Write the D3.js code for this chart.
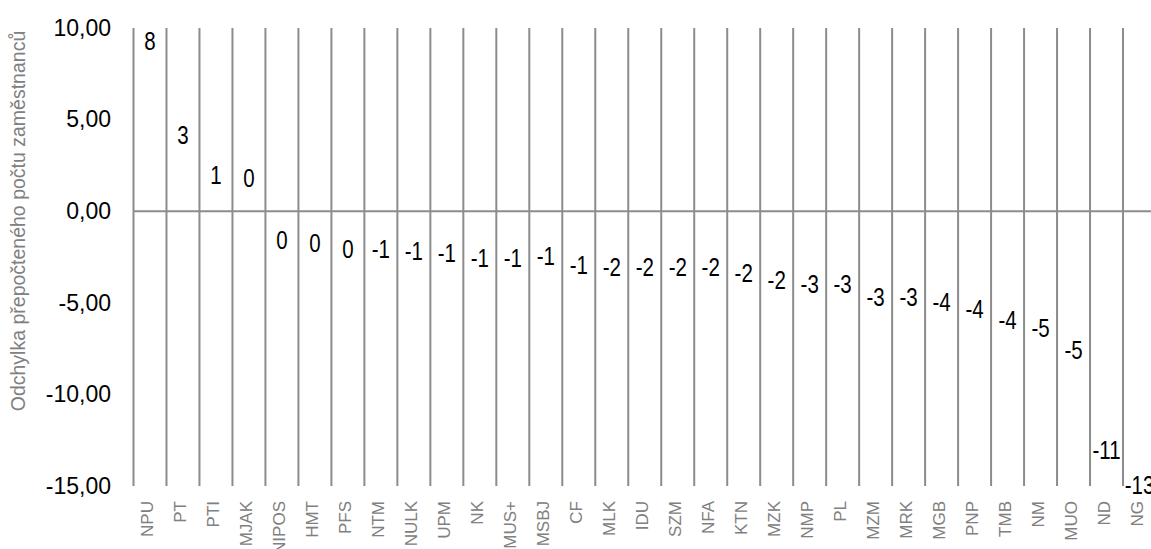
<!DOCTYPE html>
<html>
<head>
<meta charset="utf-8">
<script src="https://cdn.jsdelivr.net/npm/d3@7"></script>
<style>
    body { margin: 0; background: #fff; }
    svg { display: block; }
</style>
</head>
<body>
<svg id="chart" width="1151" height="549"></svg>
<script>
const categories = ["NPU", "PT", "PTI", "MJAK", "NIPOS", "HMT", "PFS", "NTM", "NULK", "UPM", "NK",
    "MUS+", "MSBJ", "CF", "MLK", "IDU", "SZM", "NFA", "KTN", "MZK", "NMP", "PL", "MZM", "MRK",
    "MGB", "PNP", "TMB", "NM", "MUO", "ND", "NG"];
const values = [7.8, 2.7, 0.5, 0.3, -0.1, -0.3, -0.6, -0.6, -0.7, -0.8, -1.1,
    -1.1, -1.0, -1.5, -1.6, -1.6, -1.6, -1.6, -1.9, -2.3, -2.5, -2.5, -3.2, -3.2,
    -3.5, -3.9, -4.5, -4.9, -6.1, -11.6, -13.5];
const valueLabels = ["8", "3", "1", "0", "0", "0", "0", "-1", "-1", "-1", "-1",
    "-1", "-1", "-1", "-2", "-2", "-2", "-2", "-2", "-2", "-3", "-3", "-3", "-3",
    "-4", "-4", "-4", "-5", "-5", "-11", "-13"];
const yTicks = [10, 5, 0, -5, -10, -15];
const yTitle = "Odchylka přepočteného počtu zaměstnanců";

const svg = d3.select("#chart");
const gridColor = "#8c8c8c";
const font = "'Liberation Sans', Arial, sans-serif";

const czech = d3.formatLocale({ decimal: ",", thousands: " ", grouping: [3], currency: ["", " Kč"], minus: "-" });
const fmt = czech.format(".2f");

// scales
const x = d3.scaleBand()
    .domain(categories)
    .range([133.5, 1156])
    .padding(0);

const y = d3.scaleLinear()
    .domain([-15, 10])
    .range([486, 28]);

// vertical gridlines between categories
const bounds = categories.map(c => x(c)).concat([x.range()[1]]);
svg.append("g")
    .selectAll("line")
    .data(bounds)
    .enter()
    .append("line")
    .attr("x1", d => d)
    .attr("x2", d => d)
    .attr("y1", y(10))
    .attr("y2", y(-15))
    .attr("stroke", gridColor)
    .attr("stroke-width", 2);

// bars (no fill in the original)
svg.append("g")
    .selectAll("rect")
    .data(values)
    .enter()
    .append("rect")
    .attr("x", (d, i) => x(categories[i]) + x.bandwidth() * 0.2)
    .attr("width", x.bandwidth() * 0.6)
    .attr("y", d => y(Math.max(0, d)))
    .attr("height", d => Math.abs(y(d) - y(0)))
    .attr("fill", "none");

// zero line
svg.append("line")
    .attr("x1", x.range()[0])
    .attr("x2", x.range()[1])
    .attr("y1", y(0))
    .attr("y2", y(0))
    .attr("stroke", gridColor)
    .attr("stroke-width", 2);

// y axis
const yAxis = svg.append("g")
    .attr("transform", `translate(${x.range()[0]},0)`)
    .call(d3.axisLeft(y).tickValues(yTicks).tickFormat(fmt).tickSize(0).tickPadding(22.5));
yAxis.select(".domain").remove();
yAxis.selectAll("text")
    .style("font-family", font)
    .style("font-size", "23px")
    .attr("fill", "#000");

// category labels
svg.append("g")
    .selectAll("text")
    .data(categories)
    .enter()
    .append("text")
    .attr("transform", d => `translate(${x(d) + x.bandwidth() / 2 + 3},501) rotate(-90)`)
    .attr("text-anchor", "end")
    .style("font-family", font)
    .style("font-size", "17px")
    .attr("fill", "#808080")
    .text(d => d);

// value labels (narrow face imitated by squeezing)
svg.append("g")
    .selectAll("text")
    .data(values)
    .enter()
    .append("text")
    .attr("transform", (d, i) => {
        const lx = x(categories[i]) + x.bandwidth() / 2;
        const ly = d >= 0 ? y(d) - 27 : y(d) + 27;
        return `translate(${lx},${ly}) scale(0.82,1)`;
    })
    .attr("dy", "0.35em")
    .attr("text-anchor", "middle")
    .style("font-family", font)
    .style("font-size", "25px")
    .attr("fill", "#000")
    .text((d, i) => valueLabels[i]);

// y title
svg.append("text")
    .attr("transform", "translate(25,221) rotate(-90)")
    .attr("text-anchor", "middle")
    .style("font-family", font)
    .style("font-size", "19.5px")
    .attr("fill", "#808080")
    .text(yTitle);
</script>
</body>
</html>
